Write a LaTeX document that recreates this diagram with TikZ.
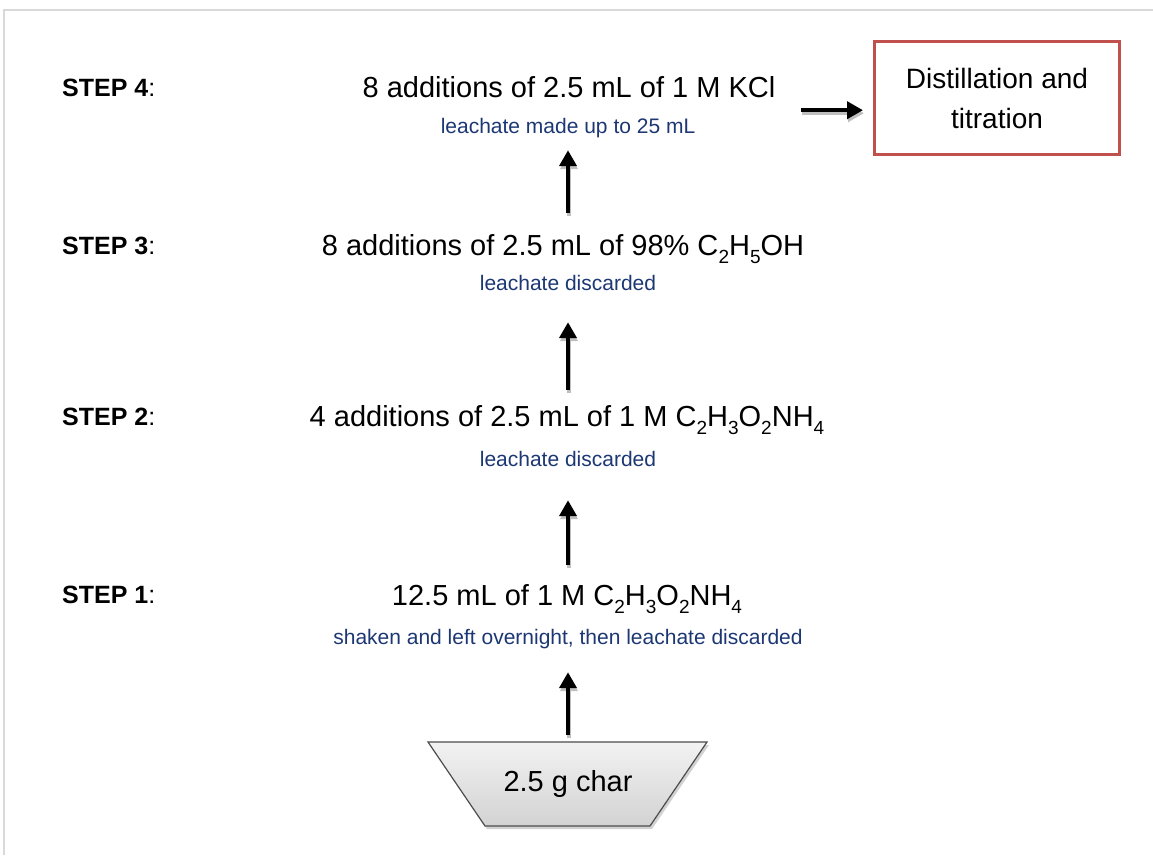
\documentclass[tikz,border=0pt]{standalone}
\usepackage{fontspec}
\setmainfont{Liberation Sans}
\usetikzlibrary{arrows.meta}

\definecolor{leach}{RGB}{28,55,115}
\definecolor{boxred}{RGB}{192,80,77}
\definecolor{framegray}{RGB}{217,217,217}

% chemical subscript, lowered and reduced
\newcommand\chsub[1]{\raisebox{-8pt}{\fontsize{19}{19}\selectfont #1}}

% arrow with a soft grey shadow underneath: from, to, shorten start, shorten end
\newcommand\flowarrow[4]{%
  \draw[flowshadow, shorten <=#3, shorten >=#4] (#1) -- (#2);
  \draw[flow, shorten <=#3, shorten >=#4] (#1) -- (#2);}

\tikzset{
  mainline/.style={font=\fontsize{29}{34}\selectfont, inner sep=0pt,
    text height=22pt, text depth=10pt, anchor=base},
  subline/.style={font=\fontsize{21}{25}\selectfont, text=leach, inner sep=0pt,
    text height=16pt, text depth=5pt, anchor=base},
  steplab/.style={font=\fontsize{25}{30}\selectfont, inner sep=0pt, anchor=base west},
  flow/.style={line width=4pt, -{Triangle[width=17pt,length=16pt]}},
  flowshadow/.style={flow, draw=gray!50, transform canvas={shift={(1pt,-3pt)}}},
  resultbox/.style={draw=boxred, line width=3pt, fill=white, minimum width=245pt,
    minimum height=113pt, align=center, font=\fontsize{28}{40}\selectfont},
  dish/.style={draw=gray!60!black, line width=1.2pt, top color=gray!10, bottom color=gray!35},
  dishshadow/.style={fill=gray!35},
  dishlabel/.style={inner sep=0pt, minimum width=165pt, minimum height=84pt,
    font=\fontsize{29}{34}\selectfont}
}

\begin{document}
\begin{tikzpicture}[x=1pt, y=-1pt]
  \useasboundingbox (0,0) rectangle (1153,855);

  % page frame
  \draw[framegray, line width=2pt] (4,855) -- (4,10) -- (1153,10);

  % step labels
  \node[steplab] (l4) at (62,96) {\textbf{STEP 4}:};
  \node[steplab] (l3) at (62,254) {\textbf{STEP 3}:};
  \node[steplab] (l2) at (62,425) {\textbf{STEP 2}:};
  \node[steplab] (l1) at (62,603) {\textbf{STEP 1}:};

  % reagents and treatment of the leachate
  \node[mainline] (m4) at (569,97) {8 additions of 2.5 mL of 1 M KCl};
  \node[subline]  (s4) at (568,133) {leachate made up to 25 mL};

  \node[mainline] (m3) at (563,255) {8 additions of 2.5 mL of 98\% C\chsub{2}H\chsub{5}OH};
  \node[subline]  (s3) at (568,290) {leachate discarded};

  \node[mainline] (m2) at (567,426) {4 additions of 2.5 mL of 1 M C\chsub{2}H\chsub{3}O\chsub{2}NH\chsub{4}};
  \node[subline]  (s2) at (568,466) {leachate discarded};

  \node[mainline] (m1) at (567,605) {12.5 mL of 1 M C\chsub{2}H\chsub{3}O\chsub{2}NH\chsub{4}};
  \node[subline]  (s1) at (568,644) {shaken and left overnight, then leachate discarded};

  % sample dish: shadow, shaded trapezoid, label
  \fill[dishshadow] (430,745) -- (709,745) -- (652,829) -- (487,829) -- cycle;
  \shade[dish] (428,742) -- (707,742) -- (650,826) -- (485,826) -- cycle;
  \node[dishlabel] (char) at (568,784) {2.5 g char};

  % final analysis
  \node[resultbox] (dist) at (997,98) {Distillation and\\titration};

  % connectors
  \flowarrow{char.north}{s1.south}{7pt}{23pt}
  \flowarrow{m1.north -| s2.south}{s2.south}{18pt}{29pt}
  \flowarrow{m2.north -| s3.south}{s3.south}{14pt}{27pt}
  \flowarrow{m3.north -| s4.south}{s4.south}{20pt}{12pt}
  \coordinate (hs) at ([shift={(25pt,-3pt)}]m4.south east);
  \flowarrow{hs}{dist.west |- hs}{0pt}{10pt}
\end{tikzpicture}
\end{document}
